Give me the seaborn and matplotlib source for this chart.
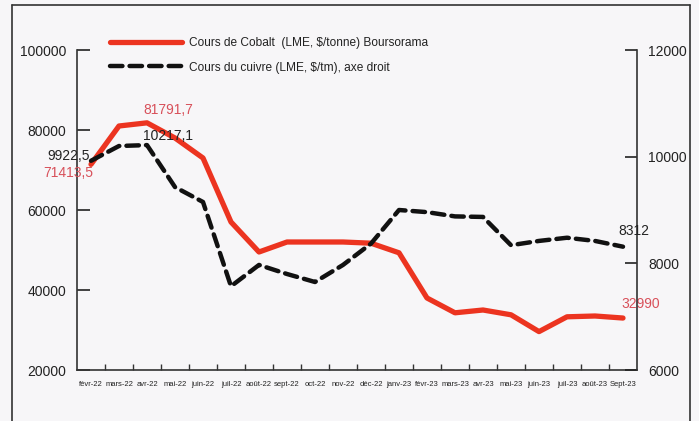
import matplotlib
matplotlib.use("Agg")
from matplotlib import pyplot as plt
from matplotlib.lines import Line2D
import numpy as np
import pandas as pd
import seaborn as sns

months = ["févr-22", "mars-22", "avr-22", "mai-22", "juin-22", "juil-22", "août-22",
          "sept-22", "oct-22", "nov-22", "déc-22", "janv-23", "févr-23", "mars-23",
          "avr-23", "mai-23", "juin-23", "juil-23", "août-23", "Sept-23"]
cobalt = [71413.5, 81000, 81791.7, 78000, 73000, 57000, 49500, 52000, 52000, 52000,
          51700, 49300, 38000, 34300, 35000, 33800, 29600, 33300, 33500, 32990]
cuivre = [9922.5, 10200, 10217.1, 9430, 9150, 7570, 7970, 7800, 7650, 7970,
          8370, 9000, 8960, 8880, 8870, 8340, 8420, 8480, 8420, 8312]

df = pd.DataFrame({"pos": np.arange(len(months)), "mois": months,
                   "cobalt": cobalt, "cuivre": cuivre})

sns.set_theme(style="white")
plt.rcParams['font.family'] = ['Liberation Sans', 'DejaVu Sans']

red = "#ec3420"
red_txt = "#d8505a"
dark = "#222222"
paper = "#f7f6f8"

fig = plt.figure(figsize=(6.99, 4.21), dpi=100, facecolor=paper)
ax = fig.add_axes([77/699, 51/421, 560/699, 320/421])
ax.set_facecolor(paper)
ax2 = ax.twinx()

sns.lineplot(data=df, x="pos", y="cobalt", ax=ax, color=red, linewidth=3.8)
sns.lineplot(data=df, x="pos", y="cuivre", ax=ax2, color="#111111", linewidth=3.2)
ax2.lines[0].set_linestyle((0, (2.8, 1.6)))
ax2.lines[0].set_dash_capstyle("round")

ax.set_xlim(-0.5, len(months) - 0.5)
ax.set_ylim(20000, 100000)
ax2.set_ylim(6000, 12000)

ax.set_yticks([20000, 40000, 60000, 80000, 100000])
ax.set_yticklabels(["20000", "40000", "60000", "80000", "100000"])
ax2.set_yticks([6000, 8000, 10000, 12000])
ax2.set_yticklabels(["6000", "8000", "10000", "12000"])

ax.set_xticks(df["pos"])
ax.set_xticklabels(months)
ax.set_xticks(np.arange(0.5, len(months) - 0.5, 1), minor=True)
ax.tick_params(axis="x", which="major", length=0, pad=8, labelsize=5.5, colors=dark)
ax.tick_params(axis="x", which="minor", direction="in", length=4.5, width=1.0,
               color="#333333", bottom=True)
ax.tick_params(axis="y", direction="in", length=9, width=1.2, pad=8,
               labelsize=10, colors=dark, left=True)
ax2.tick_params(axis="y", direction="in", length=9, width=1.2, pad=8,
                labelsize=10, colors=dark, right=True)
ax.set_xlabel("")
ax.set_ylabel("")
ax2.set_ylabel("")

for a in (ax, ax2):
    a.spines["top"].set_visible(False)
    for s in ("left", "right", "bottom"):
        a.spines[s].set_color("#333333")
        a.spines[s].set_linewidth(1.2)
ax.spines["right"].set_visible(False)
ax2.spines["left"].set_visible(False)
ax2.spines["bottom"].set_visible(False)

# annotations
ax.annotate("81791,7", xy=(2, cobalt[2]), xytext=(15, 9), textcoords="offset points",
            ha="center", va="center", color=red_txt, fontsize=10)
ax2.annotate("10217,1", xy=(2, cuivre[2]), xytext=(15, 6.5), textcoords="offset points",
             ha="center", va="center", color=dark, fontsize=10)
ax2.annotate("9922,5", xy=(0, cuivre[0]), xytext=(-1, 3.5), textcoords="offset points",
             ha="right", va="center", color=dark, fontsize=10)
ax.annotate("71413,5", xy=(0, cobalt[0]), xytext=(1.5, -6), textcoords="offset points",
            ha="right", va="center", color=red_txt, fontsize=10)
ax2.annotate("8312", xy=(19, cuivre[19]), xytext=(8, 11), textcoords="offset points",
             ha="center", va="center", color=dark, fontsize=10)
ax.annotate("32990", xy=(19, cobalt[19]), xytext=(13, 10), textcoords="offset points",
            ha="center", va="center", color=red_txt, fontsize=10)

handles = [Line2D([], [], color=red, linewidth=3.8),
           Line2D([], [], color="#111111", linewidth=3.2, linestyle=(0, (2.8, 1.6)),
                  dash_capstyle="round")]
labels = ["Cours de Cobalt  (LME, $/tonne) Boursorama",
          "Cours du cuivre (LME, $/tm), axe droit"]
leg = ax2.legend(handles, labels, loc="upper left",
                 bbox_to_anchor=(110/699, 1 - 37/421), bbox_transform=fig.transFigure,
                 frameon=False, fontsize=8.6,
                 handlelength=6.0, handletextpad=0.6,
                 labelspacing=1.05, borderpad=0, borderaxespad=0)
for t in leg.get_texts():
    t.set_color(dark)

# outer frame of the scanned figure
fw, fh = 699, 421
for xs, ys in (([12, 12], [421, 5]), ([12, 690], [5, 5]), ([690, 690], [5, 421])):
    fig.add_artist(Line2D([x / fw for x in xs], [1 - y / fh for y in ys],
                          color="#333333", linewidth=1.2))

fig.savefig("out.png", dpi=100, facecolor=paper)
